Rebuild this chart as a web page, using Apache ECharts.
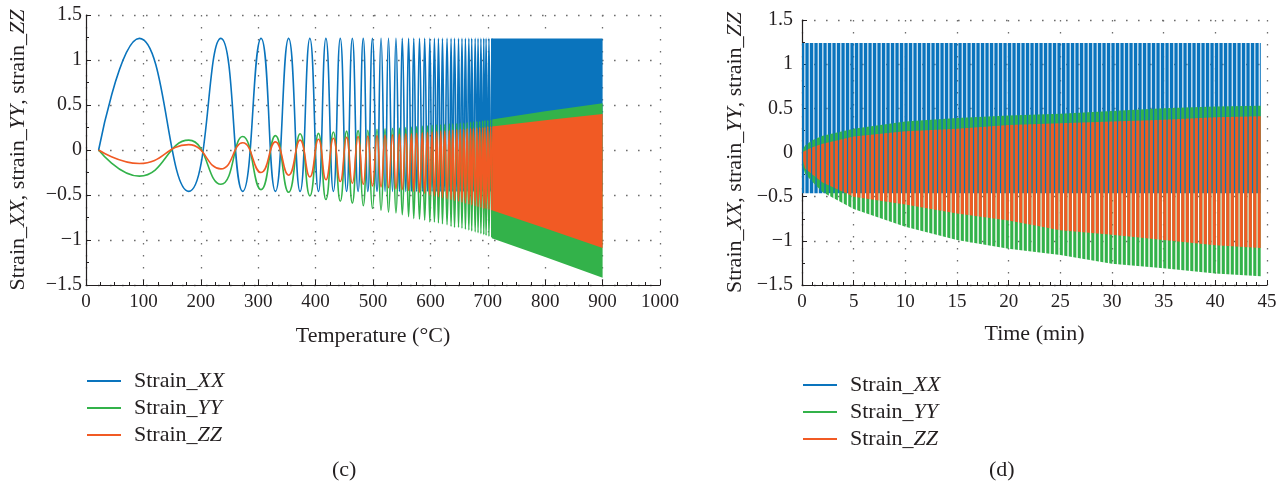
<!DOCTYPE html>
<html>
<head>
<meta charset="utf-8">
<script src="https://cdn.jsdelivr.net/npm/echarts@6/dist/echarts.min.js"></script>
<style>
html, body { margin: 0; padding: 0; background: #fff; }
#chart { width: 1288px; height: 485px; }
</style>
</head>
<body>
<div id="chart"></div>
<script>
// ---- Panel (c): strain vs temperature ----
// Turning points (alternating peaks / troughs of Strain_XX) up to the dense zone
const tempTurns = [22, 93, 179, 235, 273, 305, 330, 353, 373, 390, 405, 418, 431, 443, 454, 464, 474, 483, 491, 499, 507, 514, 521, 527, 534, 540, 546, 551, 557, 562, 567, 571, 576, 581, 586, 590, 595, 599, 603, 607, 611, 614, 618, 621, 625, 629, 633, 636, 639, 642, 646, 649, 652, 655, 658, 661, 664, 667, 670, 672, 675, 678, 681, 683, 686, 688, 691, 693, 695, 697, 700, 702, 705, 707];
const strainXXc = [0, 1.24, -0.46, 1.24, -0.46, 1.24, -0.46, 1.24, -0.46, 1.24, -0.46, 1.24, -0.46, 1.24, -0.46, 1.24, -0.46, 1.24, -0.46, 1.24, -0.46, 1.24, -0.46, 1.24, -0.46, 1.24, -0.46, 1.24, -0.46, 1.24, -0.46, 1.24, -0.46, 1.24, -0.46, 1.24, -0.46, 1.24, -0.46, 1.24, -0.46, 1.24, -0.46, 1.24, -0.46, 1.24, -0.46, 1.24, -0.46, 1.24, -0.46, 1.24, -0.46, 1.24, -0.46, 1.24, -0.46, 1.24, -0.46, 1.24, -0.46, 1.24, -0.46, 1.24, -0.46, 1.24, -0.46, 1.24, -0.46, 1.24, -0.46, 1.24, -0.46, 1.24];
const strainYYc = [0, -0.29, 0.11, -0.38, 0.15, -0.44, 0.16, -0.47, 0.18, -0.51, 0.185, -0.55, 0.20, -0.57, 0.21, -0.59, 0.215, -0.62, 0.22, -0.65, 0.23, -0.67, 0.235, -0.69, 0.24, -0.70, 0.245, -0.72, 0.25, -0.74, 0.255, -0.76, 0.26, -0.77, 0.265, -0.78, 0.27, -0.80, 0.275, -0.80, 0.28, -0.81, 0.28, -0.82, 0.285, -0.83, 0.29, -0.85, 0.29, -0.86, 0.295, -0.86, 0.30, -0.87, 0.30, -0.88, 0.305, -0.89, 0.31, -0.90, 0.315, -0.91, 0.32, -0.92, 0.32, -0.93, 0.325, -0.94, 0.33, -0.95, 0.33, -0.96, 0.335, -0.97];
const strainZZc = [0, -0.15, 0.06, -0.21, 0.08, -0.25, 0.09, -0.28, 0.11, -0.30, 0.12, -0.33, 0.13, -0.35, 0.14, -0.37, 0.15, -0.38, 0.155, -0.40, 0.16, -0.41, 0.165, -0.42, 0.17, -0.43, 0.175, -0.44, 0.18, -0.45, 0.18, -0.46, 0.185, -0.47, 0.19, -0.48, 0.195, -0.50, 0.20, -0.51, 0.205, -0.52, 0.21, -0.53, 0.21, -0.54, 0.215, -0.55, 0.22, -0.56, 0.225, -0.57, 0.23, -0.58, 0.23, -0.59, 0.235, -0.60, 0.24, -0.61, 0.24, -0.62, 0.245, -0.63, 0.25, -0.64, 0.25, -0.65, 0.255, -0.65, 0.26, -0.66, 0.26, -0.67];

// Dense zone (c): oscillation envelopes
const bandTemps = [707, 800, 900];
const xxTopC = [1.24, 1.24, 1.24];
const xxBotC = [-0.46, -0.46, -0.46];
const yyTopC = [0.34, 0.43, 0.52];
const yyBotC = [-0.98, -1.19, -1.42];
const zzTopC = [0.26, 0.33, 0.40];
const zzBotC = [-0.67, -0.87, -1.09];

// ---- Panel (d): strain vs time, oscillation envelopes ----
const timeEnv = [0, 0.3, 1, 2, 5, 10, 15, 20, 25, 30, 35, 40, 44.4];
const xxTopD = [1.24, 1.24, 1.24, 1.24, 1.24, 1.24, 1.24, 1.24, 1.24, 1.24, 1.24, 1.24, 1.24];
const xxBotD = [-0.46, -0.46, -0.46, -0.46, -0.46, -0.46, -0.46, -0.46, -0.46, -0.46, -0.46, -0.46, -0.46];
const yyTopD = [0.02, 0.08, 0.14, 0.19, 0.27, 0.35, 0.39, 0.42, 0.44, 0.47, 0.50, 0.52, 0.53];
const yyBotD = [-0.12, -0.24, -0.33, -0.45, -0.64, -0.84, -0.99, -1.09, -1.16, -1.26, -1.31, -1.37, -1.40];
const zzTopD = [0.0, 0.02, 0.06, 0.10, 0.18, 0.24, 0.27, 0.31, 0.33, 0.35, 0.37, 0.40, 0.41];
const zzBotD = [-0.05, -0.18, -0.25, -0.34, -0.50, -0.59, -0.69, -0.77, -0.88, -0.93, -0.99, -1.05, -1.08];

const seriesNames = ['Strain_XX', 'Strain_YY', 'Strain_ZZ'];
const tempTicks = { min: 0, max: 1000, interval: 100 };
const timeTicks = { min: 0, max: 45, interval: 5 };
const strainTicks = { min: -1.5, max: 1.5, interval: 0.5 };

const BLUE = '#0a74bd', GREEN = '#33b24a', ORANGE = '#f15a24';
const FONT = '"Liberation Serif", "DejaVu Serif", serif';
const INK = '#231f20';
const TITLE_SIZE = 22;

// vertical stripe fill for the densely oscillating traces
function stripes(color, offset, gapColor) {
  const c = document.createElement('canvas');
  c.width = 9; c.height = 4;
  const g = c.getContext('2d');
  if (gapColor) { g.fillStyle = gapColor; g.fillRect(0, 0, 9, 4); }
  g.fillStyle = color;
  [offset, offset + 4.5].forEach(x0 => {
    g.fillRect(x0 - 9, 0, 3.1, 4);
    g.fillRect(x0, 0, 3.1, 4);
  });
  return { image: c, repeat: 'repeat' };
}

// filled region between a lower and an upper envelope
function band(xs, lo, hi, fill, axis) {
  return {
    type: 'custom', xAxisIndex: axis, yAxisIndex: axis, silent: true, animation: false,
    clip: true,
    data: xs.map((x, i) => [x, lo[i], hi[i]]),
    encode: { x: 0, y: [1, 2] },
    renderItem: (params, api) => {
      if (params.dataIndexInside !== 0) return null;
      const n = params.dataInsideLength;
      const pts = [];
      for (let i = 0; i < n; i++) pts.push(api.coord([api.value(0, i), api.value(2, i)]));
      for (let i = n - 1; i >= 0; i--) pts.push(api.coord([api.value(0, i), api.value(1, i)]));
      return { type: 'polygon', shape: { points: pts }, style: { fill: fill, stroke: null } };
    }
  };
}

function traceLine(name, values, color) {
  return {
    name: name, type: 'line', xAxisIndex: 0, yAxisIndex: 0,
    data: tempTurns.map((t, i) => [t, values[i]]),
    smooth: true, symbol: 'none', color: color,
    lineStyle: { width: 1.6, color: color }, animation: false
  };
}

const minus = v => (v < 0 ? '\u2212' : '') + Math.abs(v);
const gridLine = { show: true, lineStyle: { color: '#6d6d6d', type: [1.6, 10.4], width: 1.3 } };

function xAxis(grid, ticks, name, gap, minorSplit) {
  return {
    gridIndex: grid, type: 'value', min: ticks.min, max: ticks.max, interval: ticks.interval,
    name: name, nameLocation: 'middle', nameGap: gap,
    nameTextStyle: { fontFamily: FONT, fontSize: TITLE_SIZE, color: INK },
    axisLine: { show: true, onZero: false, lineStyle: { color: INK, width: 1.2 } },
    axisTick: { show: true, inside: true, length: 5, lineStyle: { color: INK } },
    minorTick: { show: true, splitNumber: minorSplit, length: 3, lineStyle: { color: INK } },
    axisLabel: { fontFamily: FONT, fontSize: 19, color: INK, margin: 8, formatter: v => String(v) },
    splitLine: gridLine
  };
}

function yAxis(grid, gap, margin) {
  return {
    gridIndex: grid, type: 'value', min: strainTicks.min, max: strainTicks.max, interval: strainTicks.interval,
    name: 'Strain_{i|XX}, strain_{i|YY}, strain_{i|ZZ}', nameLocation: 'middle', nameGap: gap,
    nameTextStyle: {
      fontFamily: FONT, fontSize: TITLE_SIZE, color: INK,
      rich: { i: { fontFamily: FONT, fontSize: TITLE_SIZE, fontStyle: 'italic', color: INK } }
    },
    axisLine: { show: true, onZero: false, lineStyle: { color: INK, width: 1.2 } },
    axisTick: { show: true, inside: true, length: 5, lineStyle: { color: INK } },
    minorTick: { show: true, splitNumber: 2, length: 3, lineStyle: { color: INK } },
    axisLabel: { fontFamily: FONT, fontSize: 20, color: INK, margin: margin, formatter: minus },
    splitLine: gridLine
  };
}

function legend(left, top) {
  return {
    orient: 'vertical', left: left, top: top, data: seriesNames,
    icon: 'rect', itemWidth: 34, itemHeight: 2, itemGap: 5,
    selectedMode: false,
    formatter: n => n.replace(/_(\w+)$/, '_{i|$1}'),
    textStyle: {
      fontFamily: FONT, fontSize: TITLE_SIZE, color: INK, lineHeight: 22, padding: [0, 0, 0, 8],
      rich: { i: { fontFamily: FONT, fontSize: TITLE_SIZE, fontStyle: 'italic', color: INK, lineHeight: 22 } }
    }
  };
}

const series = [
  traceLine(seriesNames[0], strainXXc, BLUE),
  traceLine(seriesNames[1], strainYYc, GREEN),
  traceLine(seriesNames[2], strainZZc, ORANGE),
  band(bandTemps, xxBotC, xxTopC, BLUE, 0),
  band(bandTemps, yyBotC, yyTopC, GREEN, 0),
  band(bandTemps, zzBotC, zzTopC, ORANGE, 0),
  band(timeEnv, xxBotD, xxTopD, stripes(BLUE, 0, 'rgba(10,116,189,0.22)'), 1),
  band(timeEnv, yyBotD, yyTopD, stripes(GREEN, 2.25), 1),
  band(timeEnv, zzBotD, zzTopD, stripes(ORANGE, 2.25), 1)
];

const chart = echarts.init(document.getElementById('chart'), null, { renderer: 'canvas' });
chart.setOption({
  backgroundColor: '#fff',
  animation: false,
  grid: [
    { left: 86, top: 15, width: 574, height: 270 },
    { left: 802, top: 20, width: 465, height: 265 }
  ],
  xAxis: [
    xAxis(0, tempTicks, 'Temperature (\u00b0C)', 40, 4),
    xAxis(1, timeTicks, 'Time (min)', 38, 5)
  ],
  yAxis: [yAxis(0, 57, 4), yAxis(1, 56, 9)],
  legend: [legend(82, 365), legend(798, 369)],
  graphic: [
    { type: 'text', left: 332, top: 459, style: { text: '(c)', font: TITLE_SIZE + 'px ' + FONT, fill: INK } },
    { type: 'text', left: 989, top: 459, style: { text: '(d)', font: TITLE_SIZE + 'px ' + FONT, fill: INK } }
  ],
  series: series
});
</script>
</body>
</html>
